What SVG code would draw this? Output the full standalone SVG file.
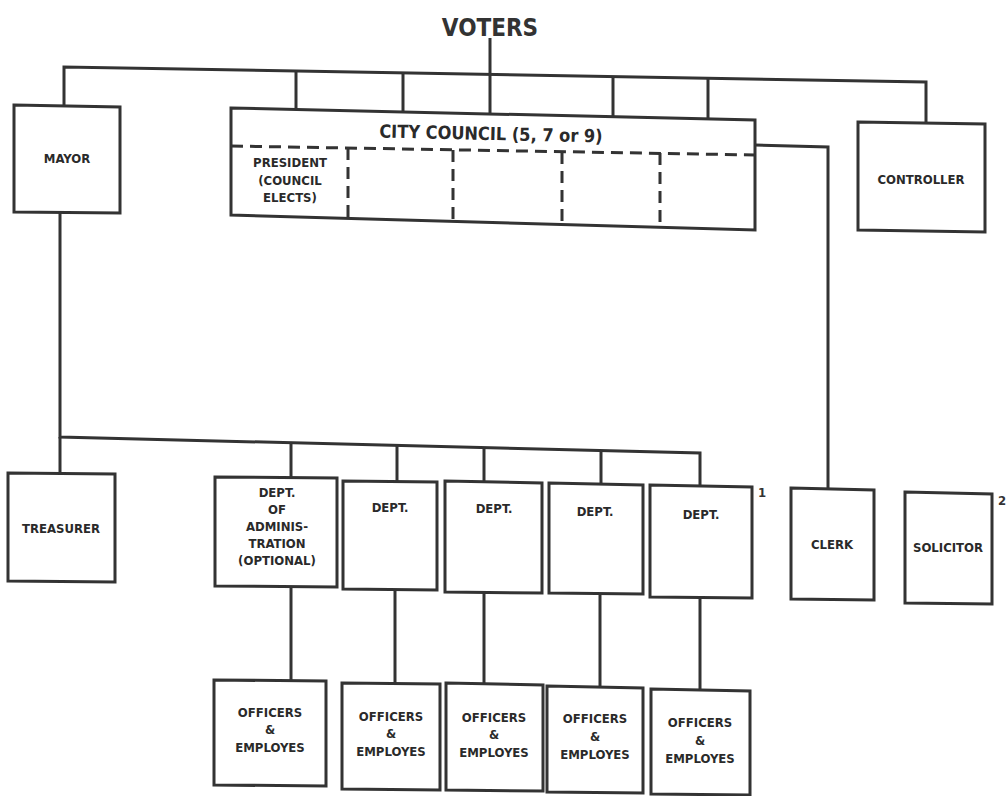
<svg xmlns="http://www.w3.org/2000/svg" width="1008" height="796" viewBox="0 0 1008 796">
<style>
.box{fill:#fff;stroke:#333;stroke-width:3;stroke-linejoin:miter}
.ln{fill:none;stroke:#333;stroke-width:3}
.dash{fill:none;stroke:#333;stroke-width:3;stroke-dasharray:12,7}
.t{font-family:"DejaVu Sans Condensed","DejaVu Sans",sans-serif;font-stretch:condensed;font-weight:bold;font-size:13px;fill:#2a2a2a;text-anchor:middle}
.big{font-family:"DejaVu Sans Condensed","DejaVu Sans",sans-serif;font-stretch:condensed;font-weight:bold;font-size:24px;fill:#333;text-anchor:middle}
.mid{font-size:18px}
.num{font-family:"DejaVu Sans Condensed","DejaVu Sans",sans-serif;font-weight:bold;font-size:13px;fill:#333}
</style>
<rect width="1008" height="796" fill="#fff"/>
<g id="connectors">
  <path class="ln" d="M490,38 L490,115"/>
  <path class="ln" d="M64,105 L64,67 L926,82 L926,122"/>
  <path class="ln" d="M296,71 L296,110"/>
  <path class="ln" d="M403,73 L403,112"/>
  <path class="ln" d="M613,77 L613,117"/>
  <path class="ln" d="M708,78 L708,118"/>
  <path class="ln" d="M755,145 L828,147 L828,488"/>
  <path class="ln" d="M60,213 L60,437 L700,453 L700,485"/>
  <path class="ln" d="M60,437 L60,474"/>
  <path class="ln" d="M291,443 L291,478"/>
  <path class="ln" d="M397,446 L397,481"/>
  <path class="ln" d="M484,448 L484,481"/>
  <path class="ln" d="M601,451 L601,483"/>
  <path class="ln" d="M291,587 L291,680"/>
  <path class="ln" d="M395,590 L395,683"/>
  <path class="ln" d="M484,593 L484,683"/>
  <path class="ln" d="M600,594 L600,686"/>
  <path class="ln" d="M700,598 L700,690"/>
</g>
<g id="voters"><text class="big" x="490" y="36">VOTERS</text></g>
<g id="mayor">
  <path class="box" d="M14,105 L120,107 L120,213 L14,212 Z"/>
  <text class="t" x="67" y="163">MAYOR</text>
</g>
<g id="council">
  <path class="box" d="M231,108 L755,120 L755,230 L231,215 Z"/>
  <text class="t mid" x="491" y="140" transform="rotate(1.3 491 134)">CITY COUNCIL (5, 7 or 9)</text>
  <path class="dash" d="M231,146 L755,155"/>
  <path class="dash" d="M348,148 L348,217"/>
  <path class="dash" d="M453,150 L453,220"/>
  <path class="dash" d="M562,152 L562,223"/>
  <path class="dash" d="M660,153 L660,226"/>
</g>
<g id="president">
  <text class="t" x="290" y="167">PRESIDENT</text>
  <text class="t" x="290" y="185">(COUNCIL</text>
  <text class="t" x="290" y="202">ELECTS)</text>
</g>
<g id="controller">
  <path class="box" d="M858,122 L985,124 L985,232 L858,230 Z"/>
  <text class="t" x="921" y="184">CONTROLLER</text>
</g>
<g id="treasurer">
  <path class="box" d="M8,473 L115,474 L115,582 L8,581 Z"/>
  <text class="t" x="61" y="533">TREASURER</text>
</g>
<g id="dept-admin">
  <path class="box" d="M215,477 L337,478 L337,587 L215,586 Z"/>
  <text class="t" x="277" y="497">DEPT.</text>
  <text class="t" x="277" y="514">OF</text>
  <text class="t" x="277" y="531">ADMINIS-</text>
  <text class="t" x="277" y="548">TRATION</text>
  <text class="t" x="277" y="565">(OPTIONAL)</text>
</g>
<g id="dept2">
  <path class="box" d="M343,481 L437,482 L437,590 L343,589 Z"/>
  <text class="t" x="390" y="512">DEPT.</text>
</g>
<g id="dept3">
  <path class="box" d="M445,481 L542,483 L542,593 L445,592 Z"/>
  <text class="t" x="494" y="513">DEPT.</text>
</g>
<g id="dept4">
  <path class="box" d="M549,483 L643,485 L643,594 L549,593 Z"/>
  <text class="t" x="595" y="516">DEPT.</text>
</g>
<g id="dept5">
  <path class="box" d="M650,485 L752,487 L752,598 L650,597 Z"/>
  <text class="t" x="701" y="519">DEPT.</text>
  <text class="num" x="758" y="497">1</text>
</g>
<g id="clerk">
  <path class="box" d="M791,488 L874,490 L874,600 L791,599 Z"/>
  <text class="t" x="832" y="549">CLERK</text>
</g>
<g id="solicitor">
  <path class="box" d="M905,492 L992,494 L992,604 L905,603 Z"/>
  <text class="t" x="948" y="552">SOLICITOR</text>
  <text class="num" x="998" y="505">2</text>
</g>
<g id="officers1">
  <path class="box" d="M214,680 L326,681 L326,786 L214,785 Z"/>
  <text class="t" x="270" y="717">OFFICERS</text>
  <text class="t" x="270" y="734">&amp;</text>
  <text class="t" x="270" y="752">EMPLOYES</text>
</g>
<g id="officers2">
  <path class="box" d="M342,683 L440,684 L440,790 L342,789 Z"/>
  <text class="t" x="391" y="721">OFFICERS</text>
  <text class="t" x="391" y="738">&amp;</text>
  <text class="t" x="391" y="756">EMPLOYES</text>
</g>
<g id="officers3">
  <path class="box" d="M446,683 L543,685 L543,791 L446,790 Z"/>
  <text class="t" x="494" y="722">OFFICERS</text>
  <text class="t" x="494" y="739">&amp;</text>
  <text class="t" x="494" y="757">EMPLOYES</text>
</g>
<g id="officers4">
  <path class="box" d="M547,686 L643,688 L643,793 L547,792 Z"/>
  <text class="t" x="595" y="723">OFFICERS</text>
  <text class="t" x="595" y="741">&amp;</text>
  <text class="t" x="595" y="759">EMPLOYES</text>
</g>
<g id="officers5">
  <path class="box" d="M651,689 L750,691 L750,795 L651,794 Z"/>
  <text class="t" x="700" y="727">OFFICERS</text>
  <text class="t" x="700" y="745">&amp;</text>
  <text class="t" x="700" y="763">EMPLOYES</text>
</g>
</svg>
